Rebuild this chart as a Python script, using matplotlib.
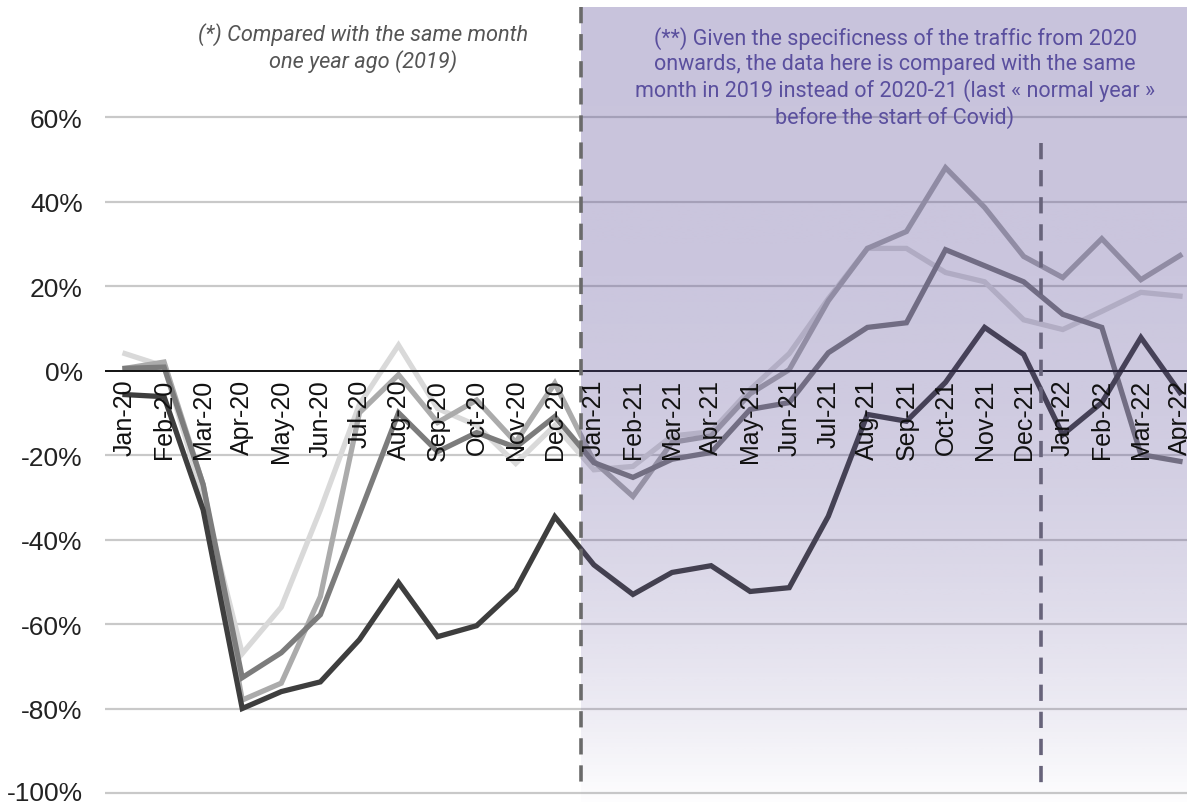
import numpy as np
import matplotlib.pyplot as plt
from matplotlib.transforms import ScaledTranslation

plt.rcParams['font.family'] = ['Liberation Sans', 'DejaVu Sans']

# month labels
months = ['Jan-20', 'Feb-20', 'Mar-20', 'Apr-20', 'May-20', 'Jun-20', 'Jul-20', 'Aug-20',
          'Sep-20', 'Oct-20', 'Nov-20', 'Dec-20', 'Jan-21', 'Feb-21', 'Mar-21', 'Apr-21',
          'May-21', 'Jun-21', 'Jul-21', 'Aug-21', 'Sep-21', 'Oct-21', 'Nov-21', 'Dec-21',
          'Jan-22', 'Feb-22', 'Mar-22', 'Apr-22']

# traffic change (%), one list per series
series_lightest = [4, 1, -30, -67, -56, -33, -8, 6, -9, -13, -22, -13, -23.5, -22.7, -15.5,
                   -14.5, -4.5, 4, 17, 28.9, 28.9, 23.2, 21, 12, 9.7, 14, 18.5, 17.6]
series_light = [0.5, 2, -27, -78, -74, -53.5, -10, -1, -12.3, -7, -17, -3, -21.5, -29.8, -17,
                -15.5, -5.5, 0.2, 16.5, 28.9, 32.9, 48, 38.6, 27, 22, 31.2, 21.5, 27.2]
series_mid = [0.5, 0.8, -27, -72.7, -66.8, -57.8, -34, -10, -19.2, -14.7, -18.2, -10.9, -21.8,
              -25.3, -21, -19.4, -9.2, -7.6, 4.2, 10.2, 11.3, 28.6, 24.8, 21, 13.3, 10.2, -19.9, -21.5]
series_dark = [-5.7, -6.2, -33, -80, -76, -73.7, -63.7, -50.2, -63, -60.4, -51.8, -34.6, -46,
               -53, -47.8, -46.2, -52.3, -51.4, -34.5, -10.4, -12, -2.8, 10.2, 3.8, -15.2, -7.6, 7.8, -5.2]

y_ticks = [60, 40, 20, 0, -20, -40, -60, -80, -100]

W, H = 1187, 803
fig = plt.figure(figsize=(W / 100, H / 100), dpi=100)
ax = fig.add_axes([105 / W, 0, 1 - 105 / W, 1])

x = np.arange(len(months))
x_left, x_right = -0.512, 27.18
y_bot, y_top = -102.13, 87.93
ax.set_xlim(x_left, x_right)
ax.set_ylim(y_bot, y_top)

# gridlines
for v in y_ticks:
    if v != 0:
        ax.axhline(v, color='#c9c9c9', lw=1.6, zorder=1)

colors = ['#d9d9d9', '#ababab', '#7c7c7c', '#3e3e3e']
for s, c in zip([series_lightest, series_light, series_mid, series_dark], colors):
    ax.plot(x, s, color=c, lw=3.8, solid_joinstyle='miter', zorder=3)

ax.axhline(0, color='#111111', lw=1.4, zorder=4)

# shaded "2021 onwards" zone with vertical gradient
x0 = 11.67
top = 86.0
n = 256
f = np.linspace(0, 1, n)[:, None]
alpha = 0.32 * (1 - f ** 3) + 0.01
rgba = np.zeros((n, 1, 4))
rgba[..., :3] = np.array([90, 75, 150]) / 255
rgba[..., 3] = alpha
ax.imshow(rgba, extent=[x0, x_right, y_bot, top], aspect='auto', origin='upper',
          interpolation='bilinear', zorder=5)

# dashed separators
ax.plot([x0, x0], [top, -97.8], color='#6a6a6a', lw=2.6, dashes=(4.5, 3), zorder=6)
ax.plot([23.45, 23.45], [53.9, -97.8], color='#67637a', lw=2.6, dashes=(4.5, 3), zorder=6)

# month labels just under the zero line
for i, m in enumerate(months):
    ax.annotate(m, xy=(i, 0), xytext=(0, -6), textcoords='offset points', rotation=90,
                ha='center', va='top', fontsize=18, color='#111111', zorder=7)

ax.set_yticks(y_ticks)
ax.set_yticklabels([f'{v}%' for v in y_ticks], fontsize=19, color='#222222')
ax.tick_params(axis='y', length=0, pad=16)
# nudge the bottom label up a little so it stays inside the picture
last = ax.get_yticklabels()[-1]
last.set_transform(last.get_transform() + ScaledTranslation(0, 3 / 100, fig.dpi_scale_trans))
ax.set_xticks([])
for sp in ax.spines.values():
    sp.set_visible(False)

fig.text(363 / W, 1 - 48 / H, '(*) Compared with the same month\none year ago (2019)',
         ha='center', va='center', fontsize=15.7, style='italic', color='#555555',
         family='Roboto', linespacing=1.2)
fig.text(895 / W, 1 - 78 / H,
         '(**) Given the specificness of the traffic from 2020\n'
         'onwards, the data here is compared with the same\n'
         'month in 2019 instead of 2020-21 (last « normal year »\n'
         'before the start of Covid)',
         ha='center', va='center', fontsize=15.5, color='#5a4f9e', family='Roboto',
         linespacing=1.25)

fig.savefig('out.png', dpi=100)
